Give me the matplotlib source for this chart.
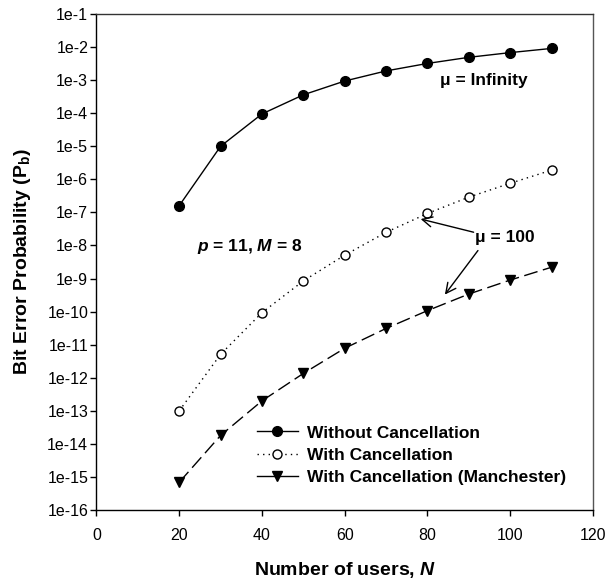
import numpy as np
import matplotlib
matplotlib.use('Agg')
import matplotlib.pyplot as plt
from matplotlib.lines import Line2D
from matplotlib.ticker import FixedLocator

plt.rcParams['font.family'] = ['Liberation Sans', 'DejaVu Sans']
plt.rcParams['mathtext.fontset'] = 'custom'
plt.rcParams['mathtext.rm'] = 'Liberation Sans'
plt.rcParams['mathtext.it'] = 'Liberation Sans:italic:bold'
plt.rcParams['mathtext.bf'] = 'Liberation Sans:bold'

# data
users = [20, 30, 40, 50, 60, 70, 80, 90, 100, 110]
pb_without = [1.6e-7, 1.0e-5, 9.5e-5, 3.6e-4, 9.4e-4, 1.9e-3, 3.2e-3, 4.9e-3, 6.8e-3, 9.1e-3]
pb_with = [1.0e-13, 5.1e-12, 9.3e-11, 8.5e-10, 5.1e-9, 2.5e-8, 9.3e-8, 2.9e-7, 7.6e-7, 1.9e-6]
pb_manchester = [6.9e-16, 1.8e-14, 2.0e-13, 1.35e-12, 7.8e-12, 3.1e-11, 1.07e-10, 3.4e-10, 9.0e-10, 2.2e-9]

series_labels = ['Without Cancellation', 'With Cancellation', 'With Cancellation (Manchester)']
ytick_vals = [10.0 ** -k for k in range(1, 17)]
ytick_labels = ['1e-%d' % k for k in range(1, 17)]
xtick_vals = [0, 20, 40, 60, 80, 100, 120]

fig = plt.figure(figsize=(6.08, 5.81), dpi=100)
ax = fig.add_axes([0.1587, 0.1222, 0.8166, 0.8537])

l1, = ax.plot(users, pb_without, color='black', lw=1, marker='o', ms=7,
              mfc='black', mec='black', label=series_labels[0])
l2, = ax.plot(users, pb_with, color='black', lw=1, ls=(0, (1, 3)), marker='o', ms=6.5,
              mfc='white', mec='black', mew=1, label=series_labels[1])
l3, = ax.plot(users, pb_manchester, color='black', lw=1, ls=(0, (10, 4)), marker='v', ms=7.5,
              mfc='black', mec='black', label=series_labels[2])

ax.set_yscale('log')
ax.set_xlim(0, 120)
ax.set_ylim(1e-16, 1e-1)
ax.yaxis.set_major_locator(FixedLocator(ytick_vals))
ax.set_yticks(ytick_vals)
ax.set_yticklabels(ytick_labels)
ax.yaxis.set_minor_locator(FixedLocator([]))
ax.set_xticks(xtick_vals)
ax.tick_params(axis='both', direction='out', length=4, width=1, labelsize=11.5,
               top=False, right=False)
ax.tick_params(axis='x', pad=9)
ax.tick_params(axis='y', pad=2)

for s in ax.spines.values():
    s.set_linewidth(1)
ax.spines['right'].set_color('#555555')
ax.spines['top'].set_color('#333333')

ax.set_xlabel('Number of users, $N$', fontsize=14, fontweight='bold', labelpad=12)
ax.set_ylabel(r'Bit Error Probability (P$_\mathbf{b}$)', fontsize=14,
              fontweight='bold', labelpad=10)

ax.text(83, 1.0e-3, 'μ = Infinity', fontsize=12.5, fontweight='bold', va='center')
ax.text(24.3, 9.1e-9, '$p$ = 11, $M$ = 8', fontsize=12.5, fontweight='bold', va='center')
ax.text(91.4, 1.8e-8, 'μ = 100', fontsize=12.5, fontweight='bold', va='center')
arr = dict(arrowstyle='->', color='black', lw=1, mutation_scale=18)
ax.annotate('', xy=(77.7, 6.6e-8), xytext=(91.8, 2.4e-8), arrowprops=arr)
ax.annotate('', xy=(83.8, 2.8e-10), xytext=(92.6, 8.2e-9), arrowprops=arr)

# legend shows the Manchester line as a solid segment
h3 = Line2D([], [], color='black', lw=1, marker='v', ms=7.5, mfc='black', mec='black')
ax.legend([l1, l2, h3], series_labels, loc='lower left', bbox_to_anchor=(0.305, 0.032),
          frameon=False, prop={'weight': 'bold', 'size': 12.5},
          handlelength=2.4, handletextpad=0.5, labelspacing=0.42, borderpad=0)

fig.savefig('out.png', dpi=100)
